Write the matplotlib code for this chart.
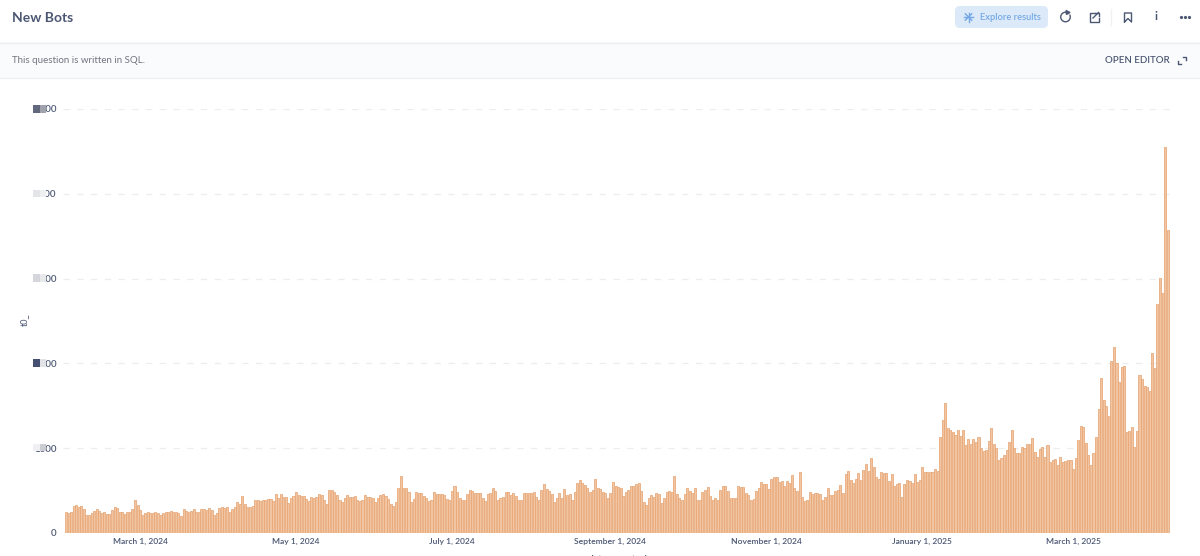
import numpy as np
import pandas as pd
import matplotlib
matplotlib.use("Agg")
import matplotlib.pyplot as plt
from matplotlib.patches import Rectangle, FancyBboxPatch, Arc, Polygon

plt.rcParams['font.family'] = ['Lato', 'DejaVu Sans']

# values, one list per stretch of the chart
vals_part1 = [250, 235, 250, 320, 335, 305, 320, 285, 215, 210, 230, 265, 280, 255, 230, 250, 220, 225, 275, 305,
              300, 245, 245, 220, 250, 250, 280, 385, 325, 275, 210, 230, 250, 230, 230, 250, 240, 210, 230, 245,
              250, 265, 245, 245, 230, 195, 285, 265, 245, 265, 285, 250, 250, 285, 285, 275, 300, 270, 215, 230,
              300, 310, 300, 305, 250, 285, 310, 370, 340, 440, 340, 305, 310, 320, 395, 395, 380, 390, 395, 400,
              405, 375, 460, 410, 460, 425, 425, 350, 410, 440, 480, 445, 440, 440, 405, 375, 430, 410, 430, 465,
              450, 390, 345, 505, 510, 480, 450, 385, 360, 410, 450, 425, 430, 435, 385]
vals_part2 = [375, 385, 450, 430, 430, 410, 360, 410, 450, 465, 435, 405, 345, 320, 365, 530, 670, 530, 525, 480,
              365, 400, 485, 475, 470, 435, 410, 375, 390, 480, 455, 455, 455, 450, 405, 385, 495, 550, 480, 410,
              385, 395, 465, 505, 490, 470, 470, 470, 415, 375, 465, 470, 525, 490, 395, 410, 420, 480, 480, 445,
              470, 440, 395, 395, 470, 470, 470, 470, 485, 420, 395, 510, 580, 515, 495, 465, 370, 415, 470, 410,
              520, 450, 455, 385, 480, 585, 620, 590, 570, 525, 485, 510, 635, 530, 520, 485, 470, 410, 470, 605,
              550, 540, 530, 440, 485, 505, 555, 555, 575, 585, 490, 370, 330, 410, 450, 420, 475]
vals_part3 = [465, 355, 415, 485, 490, 480, 670, 465, 410, 395, 465, 535, 490, 470, 525, 385, 395, 485, 505, 540,
              440, 395, 415, 385, 510, 550, 560, 495, 415, 415, 410, 550, 540, 540, 470, 450, 395, 405, 490, 535,
              605, 580, 575, 520, 635, 655, 655, 600, 615, 560, 615, 585, 680, 535, 495, 725, 430, 375, 395, 485,
              465, 470, 470, 465, 395, 420, 525, 450, 445, 490, 510, 570, 470, 695, 735, 620, 595, 635, 705, 630,
              745, 815, 735, 890, 780, 655, 635, 715, 710, 705, 610, 690, 555, 580, 595, 420, 575, 620, 615, 590,
              700, 600, 620, 780, 715, 720]
vals_part4 = [715, 715, 760, 735, 1130, 1330, 1530, 1235, 1215, 1195, 1155, 1215, 1145, 1215, 1035, 1105, 1055, 1105,
              1070, 1130, 1005, 965, 975, 1090, 1240, 1055, 1005, 860, 890, 925, 975, 1075, 1220, 1005, 945, 945,
              1010, 1005, 1055, 1055, 1120, 955, 900, 985, 1010, 900, 1035, 835, 860, 875, 800]
vals_part5 = [900, 840, 850, 860, 860, 750, 890, 1095, 1260, 1245, 1065, 925, 800, 945, 1130, 1465, 1830, 1570, 1500,
              1375, 2025, 2190, 2000, 1785, 1960, 1975, 1195, 1205, 1255, 1020, 1205, 1865, 1815, 1735, 1720, 1675,
              2125, 1940, 2700, 3005, 2835, 4555, 3575]
values = vals_part1 + vals_part2 + vals_part3 + vals_part4 + vals_part5
dates = pd.date_range("2024-02-01", periods=len(values), freq="D")

y_ticks = [0, 1000, 2000, 3000, 4000, 5000]
y_tick_labels = ["0", "1000", "2000", "3000", "4000", "5000"]
x_ticks = ["2024-03-01", "2024-05-01", "2024-07-01", "2024-09-01", "2024-11-01", "2025-01-01", "2025-03-01"]
x_tick_labels = ["March 1, 2024", "May 1, 2024", "July 1, 2024", "September 1, 2024",
                 "November 1, 2024", "January 1, 2025", "March 1, 2025"]

TEXT = "#4C5773"
W, H = 1200, 556

fig = plt.figure(figsize=(12, 5.56), dpi=100, facecolor="white")

# chart axes placed in pixels: x 63-1170, y 109-533
ax = fig.add_axes([63 / W, (H - 533) / H, (1170 - 63) / W, (533 - 109) / H])
ax.set_facecolor("none")
ax.bar(dates, values, width=0.8, color="#F2C5A2", edgecolor="#E8A674", linewidth=0.55, zorder=3)
day_px = 2.556
x0 = pd.Timestamp("2024-02-01")
ax.set_xlim(x0 - pd.Timedelta(days=(66 - 63) / day_px), x0 + pd.Timedelta(days=(1170 - 66) / day_px))
ax.set_ylim(0, 5000)
ax.set_yticks(y_ticks)
ax.set_yticklabels(y_tick_labels, fontsize=7, color=TEXT, fontweight="semibold")
ax.set_xticks(pd.to_datetime(x_ticks))
ax.set_xticklabels(x_tick_labels, fontsize=6.1, color=TEXT, fontweight="semibold")
ax.tick_params(axis="y", length=0, pad=4.5)
ax.tick_params(axis="x", length=0, pad=3.5)
ax.grid(axis="y", color="#ECEDEF", linestyle=(0, (5, 6)), linewidth=0.9, zorder=0)
ax.set_axisbelow(True)
for s in ax.spines.values():
    s.set_visible(False)

# overlay in pixel coordinates for the page around the chart
ui = fig.add_axes([0, 0, 1, 1])
ui.set_xlim(0, W)
ui.set_ylim(H, 0)
ui.axis("off")
ui.patch.set_alpha(0)

ui.add_patch(Rectangle((0, 42), W, 36, facecolor="#F9FBFC", edgecolor="none"))
ui.plot([0, W], [42.5, 42.5], color="#EBEDEF", lw=1)
ui.plot([0, W], [78, 78], color="#EEF0F1", lw=1)

ui.text(12, 17.5, "New Bots", fontsize=10, fontweight="bold", color=TEXT, va="center")
ui.text(12.5, 60.5, "This question is written in SQL.", fontsize=7, color="#70757F", va="center")
ui.text(1170, 60.5, "OPEN EDITOR", fontsize=7, fontweight="semibold", color=TEXT, va="center", ha="right")

# Explore results button
ui.add_patch(FancyBboxPatch((956, 7), 91, 20, boxstyle="round,pad=0,rounding_size=4",
                            facecolor="#DCE9F8", edgecolor="#DCE9F8", lw=1.5))
ui.text(1010, 17, "Explore results", fontsize=6.7, fontweight="semibold", color="#74A8E6", va="center", ha="center")
for a in np.arange(0, np.pi, np.pi / 4):
    ui.plot([968.5 - 4.5 * np.cos(a), 968.5 + 4.5 * np.cos(a)], [17 - 4.5 * np.sin(a), 17 + 4.5 * np.sin(a)],
            color="#74A8E6", lw=1)

# toolbar icons
ui.add_patch(Arc((1065.5, 17), 9.5, 9.5, theta1=-30, theta2=280, color=TEXT, lw=1))
ui.add_patch(Polygon([[1066, 10.5], [1070, 12.5], [1066.5, 14.5]], closed=True, color=TEXT))
ui.plot([1095, 1089.5, 1089.5, 1098.5, 1098.5], [13, 13, 21.5, 21.5, 17.5], color=TEXT, lw=1)
ui.plot([1093, 1098.5], [18, 12.5], color=TEXT, lw=1)
ui.plot([1095, 1098.5, 1098.5], [12.5, 12.5, 16], color=TEXT, lw=1)
ui.plot([1111, 1111], [9, 25], color="#EEF0F1", lw=1)
ui.plot([1124.5, 1124.5, 1131.5, 1131.5, 1128, 1124.5], [22, 13, 13, 22, 18.5, 22], color=TEXT, lw=1)
ui.text(1156, 17, "i", fontsize=8.5, fontweight="bold", color=TEXT, va="center", ha="center")
ui.plot([1180.5, 1184.5, 1188.5], [17, 17, 17], linestyle="none", marker="o", ms=1.3, color=TEXT)

# expand icon
ui.plot([1177.5, 1177.5, 1180.5], [60.5, 64, 64], color=TEXT, lw=1)
ui.plot([1182.5, 1185.5, 1185.5], [56.5, 56.5, 60], color=TEXT, lw=1)

# axis titles, x one is cut by the bottom of the page
ui.text(24, 320, "t0_", fontsize=6.5, color=TEXT, rotation=90, va="center", ha="center")
ui.text(618, 558.5, "date_created", fontsize=7.5, fontweight="semibold", color=TEXT, va="center", ha="center")

# blocks over the y tick labels
blocks_left = ["#62697F", "#E4E5E8", "#D5D6DB", "#444F72", "#F0F0F2"]
blocks_right = ["#A0A3AE", "#EEEFF1", "#E8E9EB", "#E2E3E6", "#CBCDD3"]
block_tops = [105, 189.5, 274, 359, 443.5]
for top, c1, c2 in zip(block_tops, blocks_left, blocks_right):
    ui.add_patch(Rectangle((33, top), 7, 7.5, facecolor=c1, edgecolor="none"))
    ui.add_patch(Rectangle((40, top), 5.5, 7.5, facecolor=c2, edgecolor="none"))

fig.savefig("out.png", dpi=100)
